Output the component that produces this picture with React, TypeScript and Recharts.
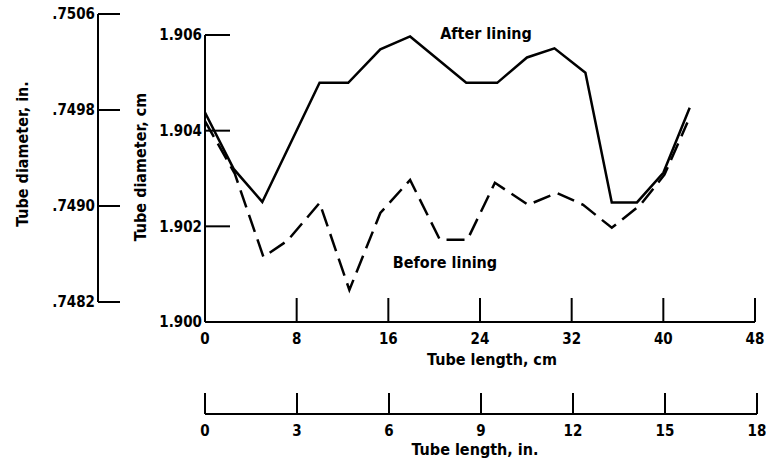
import { LineChart, Line, XAxis, YAxis, Label } from 'recharts';

// tick values
const cmTicks = [0, 8, 16, 24, 32, 40, 48];
const inTicks = [0, 3, 6, 9, 12, 15, 18];
const diaCmTicks = [1.9, 1.902, 1.904, 1.906];
const diaInTicks = [0.7482, 0.749, 0.7498, 0.7506];

// after lining (solid)
const afterLen = [0, 2.5, 5.0, 10.0, 12.5, 15.3, 17.9, 22.8, 25.5, 28.1, 30.5, 33.2, 35.5, 37.7, 40.0, 42.3];
const afterDia = [1.90438, 1.9032, 1.90251, 1.905, 1.905, 1.9057, 1.90597, 1.905, 1.905, 1.90553, 1.90572, 1.90521, 1.9025, 1.9025, 1.90312, 1.90448];

// before lining (dashed)
const beforeLen = [0, 2.6, 5.1, 7.2, 10.0, 12.6, 15.3, 17.9, 20.5, 22.9, 25.3, 28.2, 30.7, 33.0, 35.5, 38.0, 40.1, 42.1];
const beforeDia = [1.9042, 1.9031, 1.90136, 1.9017, 1.90249, 1.90067, 1.90228, 1.90297, 1.90172, 1.90172, 1.90291, 1.90245, 1.9027, 1.90245, 1.90197, 1.90245, 1.90308, 1.90417];

const afterData = afterLen.map((len, i) => ({ len, dia: afterDia[i] }));
const beforeData = beforeLen.map((len, i) => ({ len, dia: beforeDia[i] }));

const FONT = '"DejaVu Sans Condensed", "Liberation Sans Narrow", sans-serif';
const tickStyle = { fill: '#000', fontSize: 15, fontWeight: 700, fontFamily: FONT };
const titleStyle = { fill: '#000', fontSize: 16, fontWeight: 700, fontFamily: FONT };
const axisStroke = { stroke: '#000', strokeWidth: 2 };

const App = () => {
  return (
    <div style={{ position: 'absolute', left: 0, top: 0, width: 766, height: 472, background: '#fff' }}>
      {/* inch diameter scale */}
      <LineChart
        width={130}
        height={472}
        data={[]}
        margin={{ top: 14, right: 0, bottom: 170, left: 0 }}
        style={{ position: 'absolute', left: 0, top: 0 }}
      >
        <XAxis hide type="number" domain={[0, 1]} allowDataOverflow />
        <YAxis
          type="number"
          domain={[0.7482, 0.7506]}
          allowDataOverflow
          ticks={diaInTicks}
          interval={0}
          width={98}
          tickSize={-22}
          tickMargin={25}
          tick={tickStyle}
          tickLine={axisStroke}
          axisLine={axisStroke}
          tickFormatter={(v: number) => v.toFixed(4).slice(1)}
        />
      </LineChart>

      {/* inch length scale */}
      <LineChart
        layout="vertical"
        width={766}
        height={472}
        data={[]}
        margin={{ top: 380, right: 9, bottom: 0, left: 205 }}
        style={{ position: 'absolute', left: 0, top: 0 }}
      >
        <YAxis hide type="category" />
        <XAxis
          type="number"
          domain={[0, 18]}
          allowDataOverflow
          ticks={inTicks}
          interval={0}
          height={58}
          tickSize={-21}
          tickMargin={32}
          tick={tickStyle}
          tickLine={axisStroke}
          axisLine={axisStroke}
        >
          <Label value="Tube length, in." position="insideTop" offset={30} dx={-6} style={titleStyle} />
        </XAxis>
      </LineChart>

      {/* main chart */}
      <LineChart
        width={766}
        height={472}
        margin={{ top: 35, right: 11, bottom: 58, left: 145 }}
        style={{ position: 'absolute', left: 0, top: 0 }}
      >
        <XAxis
          type="number"
          dataKey="len"
          domain={[0, 48]}
          allowDataOverflow
          ticks={cmTicks}
          interval={0}
          height={92}
          tickSize={-24}
          tickMargin={35}
          tick={tickStyle}
          tickLine={axisStroke}
          axisLine={axisStroke}
        >
          <Label value="Tube length, cm" position="insideTop" offset={32} dx={12} style={titleStyle} />
        </XAxis>
        <YAxis
          type="number"
          domain={[1.9, 1.906]}
          allowDataOverflow
          ticks={diaCmTicks}
          interval={0}
          width={60}
          tickSize={-25}
          tickMargin={28}
          tick={tickStyle}
          tickLine={axisStroke}
          axisLine={axisStroke}
          tickFormatter={(v: number) => v.toFixed(3)}
        />
        <Line
          data={afterData}
          dataKey="dia"
          type="linear"
          stroke="#000"
          strokeWidth={2.5}
          dot={false}
          isAnimationActive={false}
        />
        <Line
          data={beforeData}
          dataKey="dia"
          type="linear"
          stroke="#000"
          strokeWidth={2.5}
          strokeDasharray="18 8"
          dot={false}
          isAnimationActive={false}
        />
      </LineChart>

      {/* annotations */}
      <svg width={766} height={472} style={{ position: 'absolute', left: 0, top: 0, pointerEvents: 'none' }}>
        <g style={titleStyle}>
          <text x={486} y={33} textAnchor="middle" dominantBaseline="central">After lining</text>
          <text x={445} y={262} textAnchor="middle" dominantBaseline="central">Before lining</text>
          <text transform="translate(140,167) rotate(-90)" textAnchor="middle" dominantBaseline="central">
            Tube diameter, cm
          </text>
          <text transform="translate(22,154) rotate(-90)" textAnchor="middle" dominantBaseline="central">
            Tube diameter, in.
          </text>
        </g>
      </svg>
    </div>
  );
};

export default App;
